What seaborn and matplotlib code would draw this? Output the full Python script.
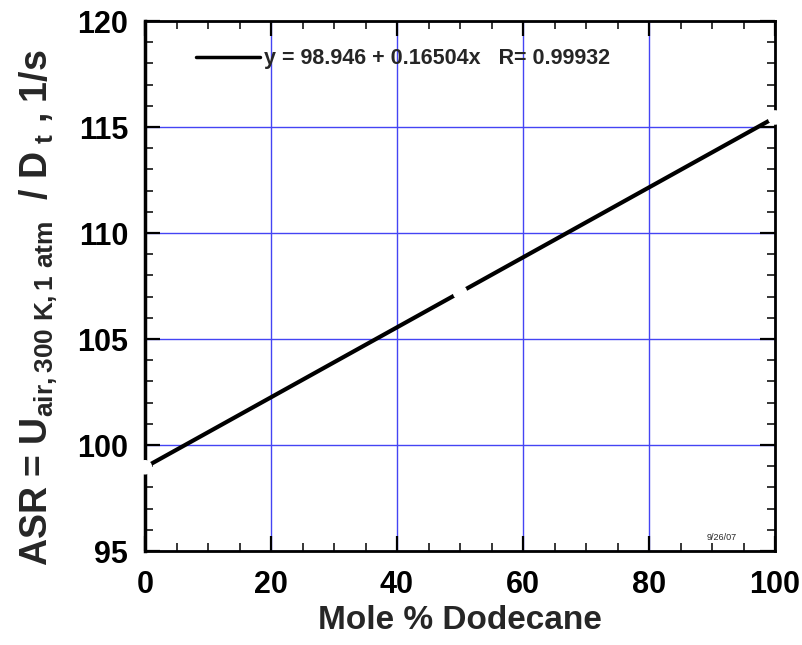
import matplotlib
matplotlib.use("Agg")
import matplotlib.pyplot as plt
import seaborn as sns
import pandas as pd
from matplotlib.ticker import MultipleLocator

# ---- data ----
mole_pct = [0, 50, 100]
asr = [98.95, 107.2, 115.45]
x_ticks = [0, 20, 40, 60, 80, 100]
y_ticks = [95, 100, 105, 110, 115, 120]
fit_label = "y = 98.946 + 0.16504x   R= 0.99932"
date_text = "9/26/07"

df = pd.DataFrame({"x": mole_pct, "y": asr})

sns.set_theme(style="white")
plt.rcParams["font.family"] = ["Liberation Sans", "DejaVu Sans"]
plt.rcParams["font.weight"] = "bold"
plt.rcParams["mathtext.fontset"] = "custom"
plt.rcParams["mathtext.rm"] = "Liberation Sans:bold"
plt.rcParams["mathtext.bf"] = "Liberation Sans:bold"
plt.rcParams["mathtext.it"] = "Liberation Sans:bold"
plt.rcParams["mathtext.sf"] = "Liberation Sans:bold"

fig = plt.figure(figsize=(8.02, 6.45), dpi=100)
ax = fig.add_axes([145/802, 1-551/645, (775-145)/802, (551-21)/645])

ax.set_xlim(0, 100)
ax.set_ylim(95, 120)
ax.set_xticks(x_ticks)
ax.set_yticks(y_ticks)
ax.xaxis.set_minor_locator(MultipleLocator(5))
ax.yaxis.set_minor_locator(MultipleLocator(1))

ax.grid(True, which="major", color="#4444f4", linewidth=1.0)
ax.set_axisbelow(True)

sns.lineplot(data=df, x="x", y="y", ax=ax, color="black", linewidth=3,
             label=fit_label, zorder=3)
sns.scatterplot(data=df, x="x", y="y", ax=ax, color="white", s=110,
                edgecolor="none", zorder=5, clip_on=False, legend=False)

for s in ax.spines.values():
    s.set_visible(True)
    s.set_color("black")
    s.set_linewidth(2)
ax.spines["left"].set_linewidth(2.5)

ax.tick_params(which="major", direction="in", length=10.8, width=1.6,
               top=True, right=True, bottom=True, left=True,
               labelsize=22, colors="black")
ax.tick_params(which="minor", direction="in", length=5.8, width=1.3,
               top=True, right=True, bottom=True, left=True)
ax.tick_params(axis="x", which="major", pad=14)
ax.tick_params(axis="y", which="major", pad=12)
for lab in ax.get_xticklabels() + ax.get_yticklabels():
    lab.set_fontweight("bold")

ax.set_xlabel("Mole % Dodecane", fontsize=24, fontweight="bold", labelpad=3)
ax.set_ylabel(r"ASR = U$_{air,300\ K,1\ atm}$  / D$_{\ t}$ , 1/s",
              fontsize=27, fontweight="bold")
ax.yaxis.set_label_coords((60 - 145) / 630, 0.46)

leg = ax.legend(loc="upper left", bbox_to_anchor=(0.05, 0.985), frameon=False,
                handlelength=3.0, handletextpad=0.15,
                prop={"weight": "bold", "size": 15.5})
for h in leg.get_lines():
    h.set_linewidth(2.5)

ax.text(0.94, 0.026, date_text, transform=ax.transAxes, ha="right", va="center",
        fontsize=6.5, fontweight="normal")

fig.savefig("out.png", dpi=100)
